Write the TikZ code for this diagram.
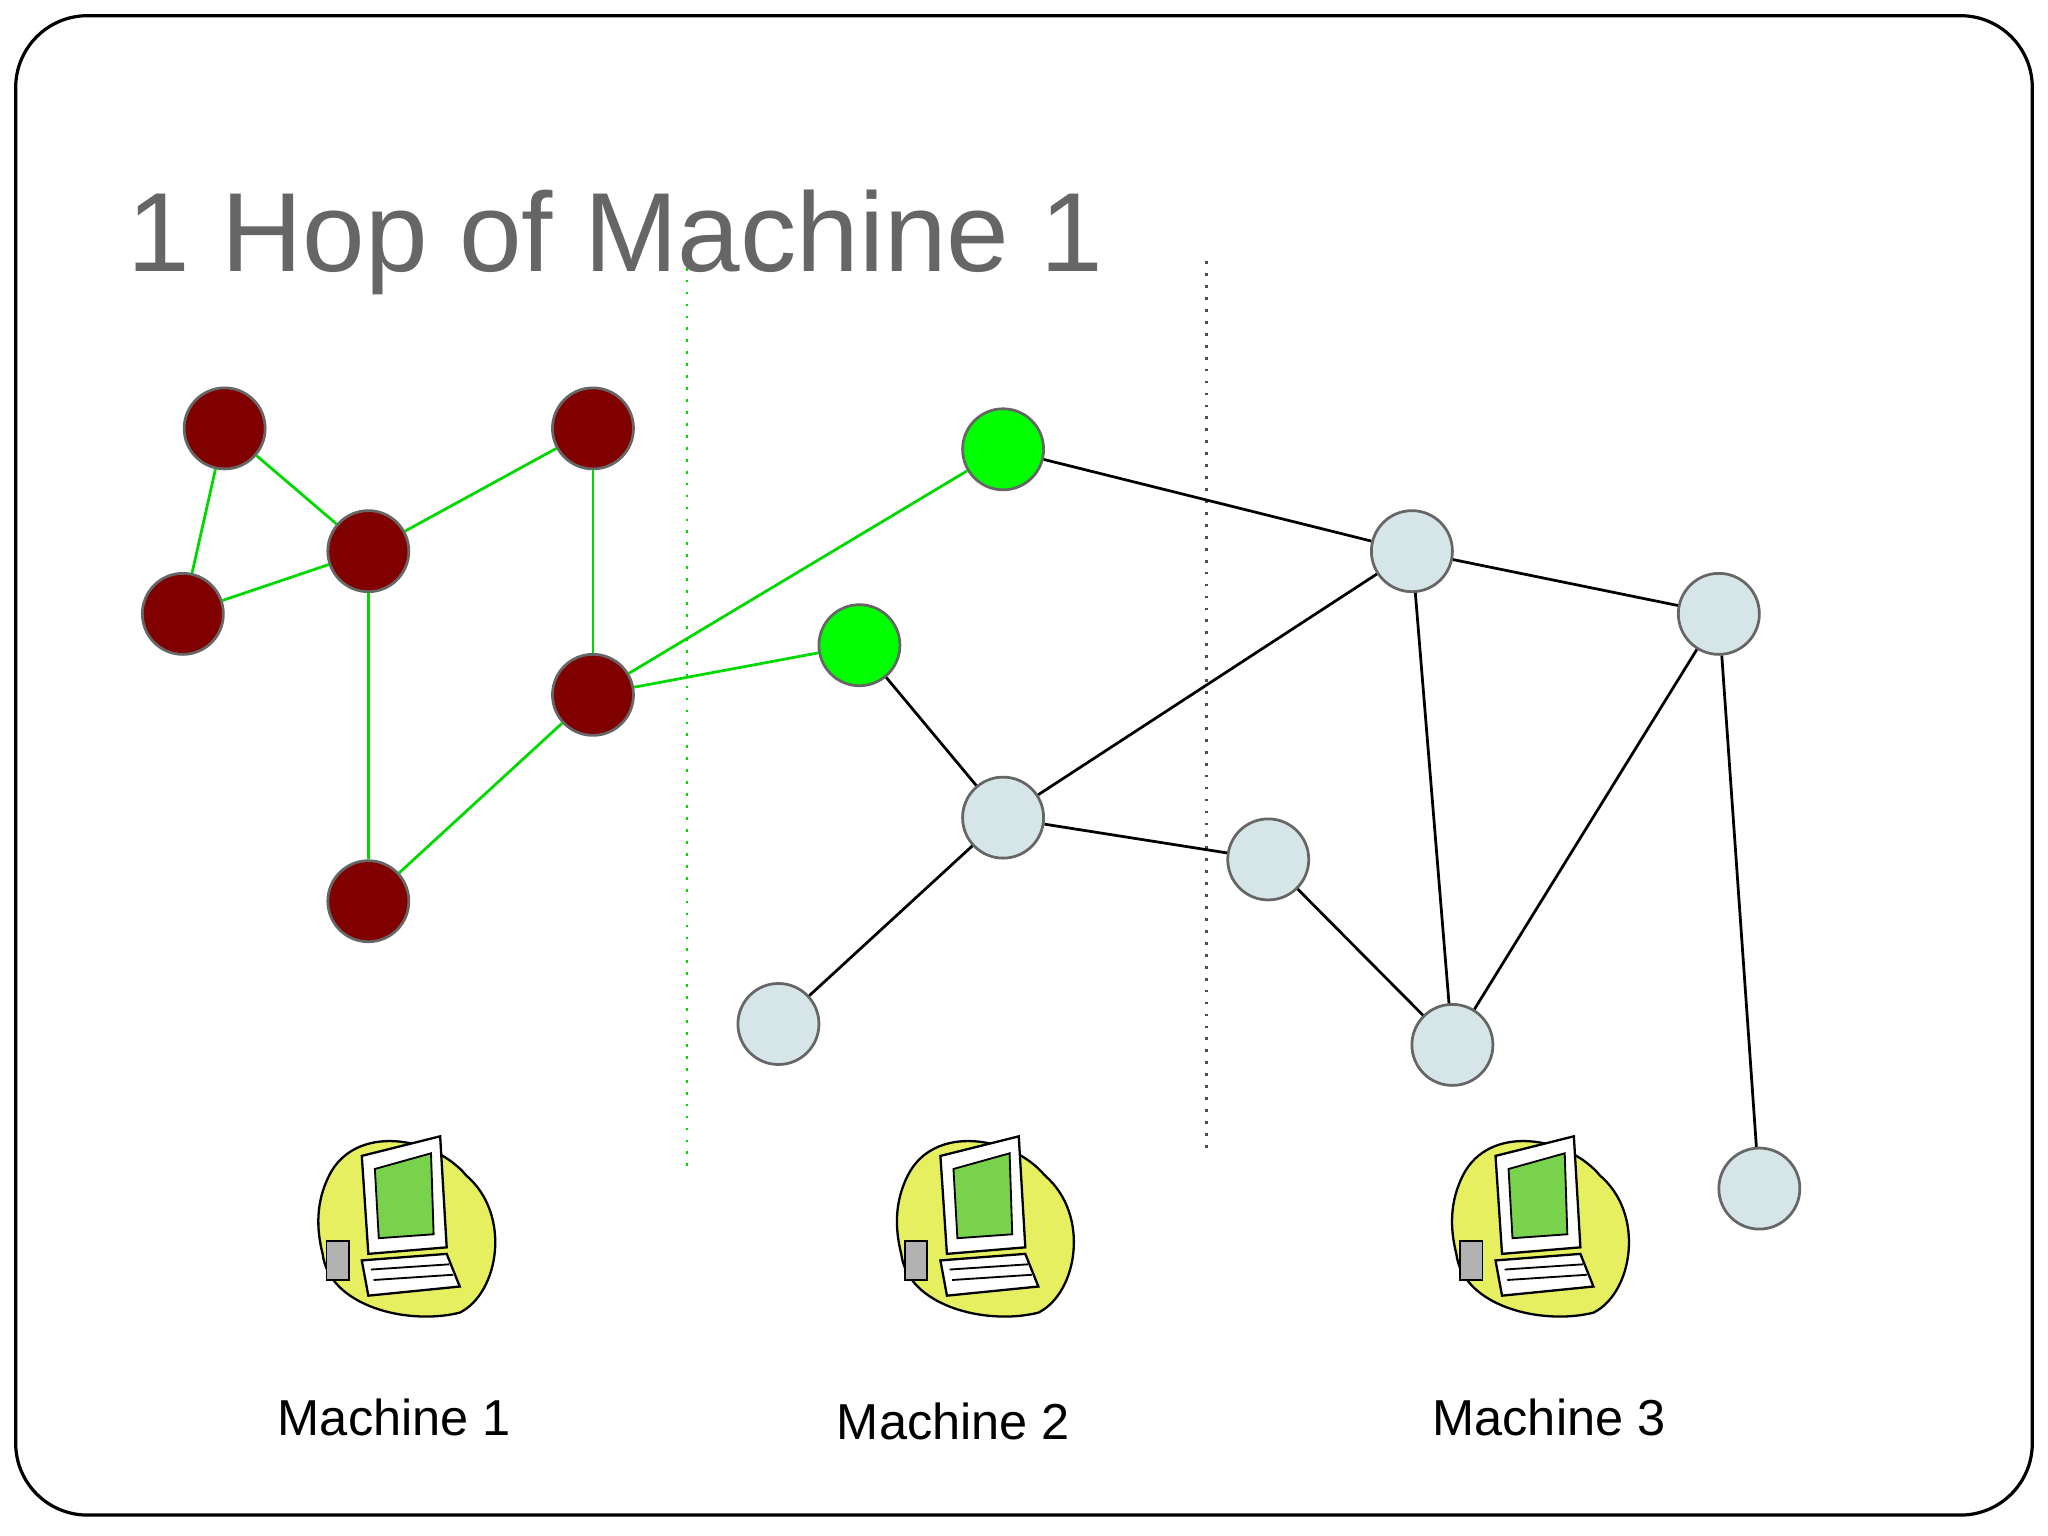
\documentclass[tikz,border=0pt]{standalone}
\usepackage{fontspec}
\setmainfont{Liberation Sans}
\definecolor{maroonc}{HTML}{800000}
\definecolor{paleb}{HTML}{D6E6E8}
\begin{document}
\begin{tikzpicture}[x=0.01cm,y=-0.01cm,
 nd/.style={circle,draw=gray!80!black,line width=0.6pt,minimum size=0.62cm,inner sep=0pt},
 red/.style={nd,fill=maroonc},
 grn/.style={nd,fill=green},
 blu/.style={nd,fill=paleb},
 ge/.style={green!85!black,line width=0.6pt},
 be/.style={black,line width=0.6pt},
 lab/.style={font=\fontsize{11}{13}\selectfont}]
\useasboundingbox (0,0) rectangle (1568,1176);
\draw[line width=0.7pt,rounded corners=0.55cm] (12,12) rectangle (1556,1160);
\node[anchor=base west,text=black!60,font=\fontsize{24.5}{27}\selectfont,inner sep=0] (title) at (97,208) {1 Hop of Machine 1};
\draw[green!85!black,dotted,line width=0.6pt] (526,205) -- (526,895);
\draw[black!70,dotted,line width=0.6pt] (924,200) -- (924,880);
\node[red] (r1) at (172,328) {};
\node[red] (r2) at (454,328) {};
\node[red] (r3) at (282,422) {};
\node[red] (r4) at (140,470) {};
\node[red] (r5) at (454,532) {};
\node[red] (r6) at (282,690) {};
\node[grn] (g1) at (768,344) {};
\node[grn] (g2) at (658,494) {};
\node[blu] (b1) at (1081,422) {};
\node[blu] (b2) at (1316,470) {};
\node[blu] (b3) at (768,626) {};
\node[blu] (b4) at (971,658) {};
\node[blu] (b5) at (596,784) {};
\node[blu] (b6) at (1112,800) {};
\node[blu] (b7) at (1347,910) {};
\foreach \a/\b in {r1/r3,r1/r4,r4/r3,r3/r2,r2/r5,r3/r6,r6/r5,r5/g1,r5/g2}
 \draw[ge] (\a) -- (\b);
\foreach \a/\b in {g1/b1,b1/b2,g2/b3,b3/b1,b3/b4,b3/b5,b4/b6,b1/b6,b2/b6,b2/b7}
 \draw[be] (\a) -- (\b);
\foreach \n/\x in {c1/312,c2/755,c3/1180}{
 \begin{scope}[shift={(\x,940)}]
 \fill[yellow!60!white!90!green,draw=black,line width=0.5pt] (-60,-40) .. controls (-40,-80) and (20,-70) .. (45,-40) .. controls (80,-10) and (70,50) .. (40,65) .. controls (0,75) and (-60,60) .. (-65,20) .. controls (-70,0) and (-70,-20) .. (-60,-40) -- cycle;
 \fill[white,draw=black,line width=0.5pt] (-35,-55) -- (25,-70) -- (30,15) -- (-30,20) -- cycle;
 \fill[green!50!olive!70,draw=black,line width=0.4pt] (-25,-45) -- (18,-57) -- (20,5) -- (-22,8) -- cycle;
 \fill[white,draw=black,line width=0.5pt] (-35,25) -- (30,20) -- (40,45) -- (-30,52) -- cycle;
 \draw[black,line width=0.4pt] (-28,32) -- (32,28) (-26,40) -- (35,36);
 \fill[gray!60,draw=black,line width=0.4pt] (-62,10) rectangle (-45,40);
 \node[inner sep=0] (\n) at (0,0) {};
 \end{scope}}
\node[lab] (m1) at (302,1085) {Machine 1};
\node[lab] (m2) at (730,1088) {Machine 2};
\node[lab] (m3) at (1186,1085) {Machine 3};
\end{tikzpicture}
\end{document}
